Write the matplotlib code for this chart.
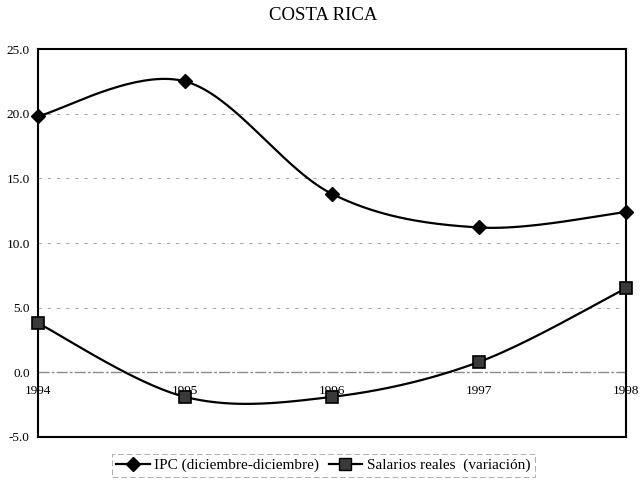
import numpy as np
import matplotlib
matplotlib.use("Agg")
import matplotlib.pyplot as plt
from matplotlib.lines import Line2D

years = [1994, 1995, 1996, 1997, 1998]
ipc = [19.8, 22.5, 13.8, 11.2, 12.4]
salarios = [3.8, -1.9, -1.9, 0.8, 6.5]
yticks = [-5.0, 0.0, 5.0, 10.0, 15.0, 20.0, 25.0]
title = "COSTA RICA"
label_ipc = "IPC (diciembre-diciembre)"
label_sal = "Salarios reales  (variación)"

plt.rcParams['font.family'] = ['Liberation Serif', 'DejaVu Serif']


def smooth(xs, ys, n=40):
    x = np.asarray(xs, float)
    y = np.asarray(ys, float)
    px, py = [], []
    m = len(x)
    for i in range(m - 1):
        x0, y0 = (x[i - 1], y[i - 1]) if i > 0 else (x[i], y[i])
        x3, y3 = (x[i + 2], y[i + 2]) if i + 2 < m else (x[i + 1], y[i + 1])
        c1x = x[i] + (x[i + 1] - x0) / 6
        c1y = y[i] + (y[i + 1] - y0) / 6
        c2x = x[i + 1] - (x3 - x[i]) / 6
        c2y = y[i + 1] - (y3 - y[i]) / 6
        t = np.linspace(0, 1, n)
        bx = (1 - t) ** 3 * x[i] + 3 * (1 - t) ** 2 * t * c1x + 3 * (1 - t) * t ** 2 * c2x + t ** 3 * x[i + 1]
        by = (1 - t) ** 3 * y[i] + 3 * (1 - t) ** 2 * t * c1y + 3 * (1 - t) * t ** 2 * c2y + t ** 3 * y[i + 1]
        px.extend(bx)
        py.extend(by)
    return np.array(px), np.array(py)


fig = plt.figure(figsize=(6.4, 4.82), dpi=100)
ax = fig.add_axes([0.0594, 0.0934, 0.9186, 0.8049])

for v in yticks[2:-1]:
    ax.axhline(v, color='#999999', lw=0.6, ls=(0, (4, 7)), zorder=1)
ax.axhline(0, color='#8c8c8c', lw=1.0, ls=(0, (8, 1.5, 2, 1.5)), zorder=1)

sx, sy = smooth(years, ipc)
ax.plot(sx, sy, color='black', lw=1.6, zorder=3)
ax.plot(years, ipc, ls='none', marker='D', ms=7, color='black', zorder=4, clip_on=False)

sx2, sy2 = smooth(years, salarios)
ax.plot(sx2, sy2, color='black', lw=1.6, zorder=3)
ax.plot(years, salarios, ls='none', marker='s', ms=8, mfc='#3a3a3a', mec='black', mew=1.2,
        zorder=4, clip_on=False)

ax.set_xlim(years[0], years[-1])
ax.set_ylim(yticks[0], yticks[-1])
ax.set_yticks(yticks)
ax.set_yticklabels([f"{v:.1f}" for v in yticks], fontsize=9.5)
ax.tick_params(axis='y', length=0, pad=6)
ax.set_xticks([])
for yr in years:
    ax.annotate(str(yr), xy=(yr, 0), xytext=(0, -13.5), textcoords='offset points',
                ha='center', va='center', fontsize=9.5)

for s in ax.spines.values():
    s.set_linewidth(1.5)
    s.set_color('black')

fig.text(0.505, 0.968, title, ha='center', va='center', fontsize=13.5)

handles = [
    Line2D([0], [0], color='black', lw=1.6, marker='D', ms=7),
    Line2D([0], [0], color='black', lw=1.6, marker='s', ms=8, mfc='#3a3a3a', mec='black'),
]
leg = fig.legend(handles, [label_ipc, label_sal], loc='center', bbox_to_anchor=(0.505, 0.035),
                 ncol=2, fontsize=11, frameon=True, fancybox=False, handlelength=2.2,
                 handletextpad=0.3, columnspacing=0.6, borderpad=0.3)
fr = leg.get_frame()
fr.set_edgecolor('#999999')
fr.set_linewidth(0.7)
fr.set_linestyle((0, (6, 3)))

fig.savefig('out.png', dpi=100)
